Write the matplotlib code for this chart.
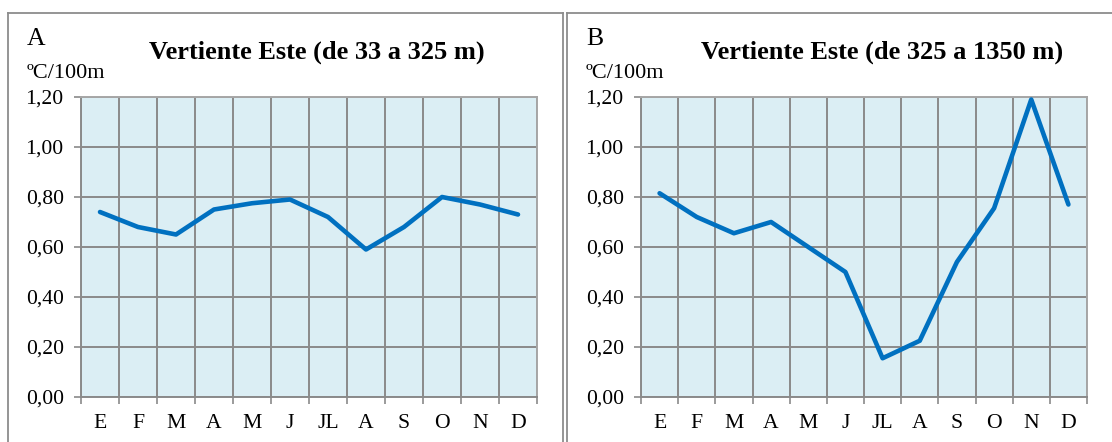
import matplotlib
matplotlib.use("Agg")
import matplotlib.pyplot as plt
from matplotlib.lines import Line2D
from matplotlib.ticker import FuncFormatter, FixedLocator

plt.rcParams["font.family"] = ["Liberation Serif", "DejaVu Serif"]

months = ["E", "F", "M", "A", "M", "J", "JL", "A", "S", "O", "N", "D"]
lapse_low = [0.74, 0.68, 0.65, 0.75, 0.775, 0.79, 0.72, 0.59, 0.68, 0.80, 0.77, 0.73]
lapse_high = [0.815, 0.72, 0.655, 0.70, 0.60, 0.50, 0.155, 0.225, 0.54, 0.755, 1.19, 0.77]
yticks = [0.0, 0.2, 0.4, 0.6, 0.8, 1.0, 1.2]

panels = [
    {"letter": "A", "title": "Vertiente Este (de 33 a 325 m)", "values": lapse_low,
     "ax": (81, 537), "frame": (8, 563), "title_x": 317},
    {"letter": "B", "title": "Vertiente Este (de 325 a 1350 m)", "values": lapse_high,
     "ax": (641, 1087), "frame": (567, 1120), "title_x": 882},
]

W, H = 1112, 442
fig = plt.figure(figsize=(W / 100, H / 100), dpi=100)

line_color = "#0070C0"
grid_color = "#8a8a8a"
bg_color = "#DBEEF4"
border_color = "#8c8c8c"


def fx(px):
    return px / W


def fy(py):
    return 1 - py / H


for p in panels:
    x0, x1 = p["ax"]
    top, bottom = 97, 397
    ax = fig.add_axes([fx(x0), fy(bottom), fx(x1 - x0), (bottom - top) / H])
    ax.set_facecolor(bg_color)
    xs = [i + 0.5 for i in range(len(months))]
    ax.plot(xs, p["values"], color=line_color, lw=3.3,
            solid_joinstyle="round", solid_capstyle="round", zorder=3)
    ax.set_xlim(0, len(months))
    ax.set_ylim(0, 1.2)

    ax.xaxis.set_major_locator(FixedLocator(range(len(months) + 1)))
    ax.xaxis.set_minor_locator(FixedLocator(xs))
    ax.set_xticklabels([], minor=False)
    ax.set_xticklabels(months, minor=True)
    ax.tick_params(axis="x", which="major", length=5, width=1.2, color=grid_color)
    ax.tick_params(axis="x", which="minor", length=0, pad=12, labelsize=15.6)

    ax.set_yticks(yticks)
    ax.yaxis.set_major_formatter(FuncFormatter(lambda v, _: f"{v:.2f}".replace(".", ",")))
    ax.tick_params(axis="y", length=5, width=1.2, color=grid_color, pad=7.5, labelsize=15.6)

    ax.grid(True, which="major", color=grid_color, lw=1.4)
    ax.set_axisbelow(True)
    for side, sp in ax.spines.items():
        sp.set_linewidth(1.4)
        sp.set_color("#a6a6a6" if side in ("top", "right") else grid_color)

    # panel frame
    f0, f1 = p["frame"]
    fig.add_artist(Line2D([fx(f0), fx(f0)], [fy(13), fy(H + 5)], color=border_color, lw=1.3))
    fig.add_artist(Line2D([fx(f0), fx(f1)], [fy(13), fy(13)], color=border_color, lw=1.3))
    if f1 <= W:
        fig.add_artist(Line2D([fx(f1), fx(f1)], [fy(13), fy(H + 5)], color=border_color, lw=1.3))

    fig.text(fx(f0 + 19), fy(39), p["letter"], fontsize=18.5, ha="left", va="center")
    fig.text(fx(f0 + 19), fy(73), "ºC/100m", fontsize=16, ha="left", va="center")
    fig.text(fx(p["title_x"]), fy(52), p["title"], fontsize=19, fontweight="bold",
             ha="center", va="center")

fig.savefig("out.png", dpi=100)
